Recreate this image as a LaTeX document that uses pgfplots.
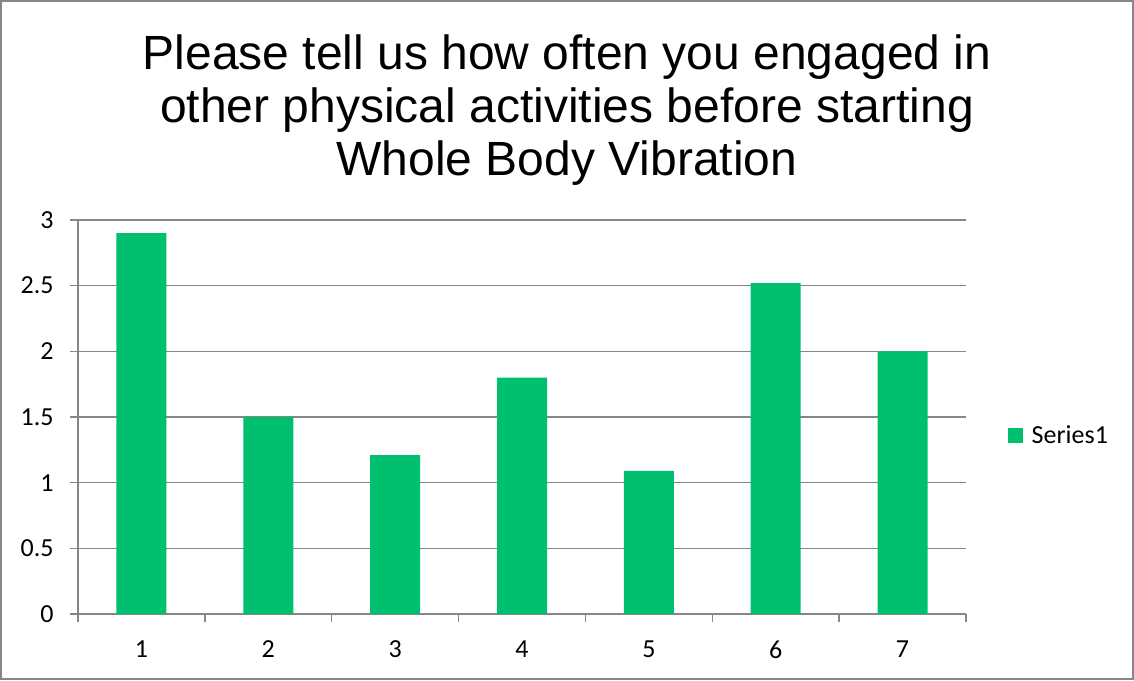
\documentclass[border=0pt]{standalone}
\usepackage{fontspec}
\setmainfont{Carlito}
\newfontfamily\titlefont{Liberation Sans}
\usepackage{pgfplots}
\pgfplotsset{compat=1.18}
\definecolor{bargreen}{RGB}{0,191,111}
\definecolor{axgray}{RGB}{134,134,134}
\begin{document}
\begin{tikzpicture}[x=0.5pt,y=0.5pt]
\useasboundingbox (0,0) rectangle (1134,680);
\draw[axgray, line width=0.75pt] (1,1) rectangle (1133,679);
\node[anchor=base, inner sep=0pt, font=\titlefont\fontsize{24}{27}\selectfont] at (567,610) {Please tell us how often you engaged in};
\node[anchor=base, inner sep=0pt, font=\titlefont\fontsize{24}{27}\selectfont] at (567,557) {other physical activities before starting};
\node[anchor=base, inner sep=0pt, font=\titlefont\fontsize{24}{27}\selectfont] at (567,504) {Whole Body Vibration};
\begin{axis}[
  at={(39pt,33pt)}, anchor=south west,
  scale only axis, width=444pt, height=197pt,
  xmin=0.5, xmax=7.5, ymin=0, ymax=3,
  ytick={0,0.5,1,1.5,2,2.5,3},
  yticklabels={0,0.5,1,1.5,2,2.5,3},
  xtick={1,2,3,4,5,6,7},
  minor xtick={0.5,1.5,2.5,3.5,4.5,5.5,6.5,7.5},
  major tick length=4pt, minor tick length=4pt,
  xtick style={draw=none},
  minor x tick style={draw=axgray, line width=0.75pt},
  ytick style={draw=axgray, line width=0.75pt},
  tick align=outside,
  axis x line*=bottom, axis y line*=left,
  axis line style={draw=axgray, line width=0.75pt, -},
  ymajorgrids, major grid style={axgray, line width=0.75pt},
  ybar, bar width=25pt,
  /pgf/number format/assume math mode=true,
  ticklabel style={font=\fontsize{13}{15}\selectfont},
  yticklabel style={xshift=-4.7pt},
  xticklabel style={yshift=-5.7pt},
  legend style={draw=none, fill=none, inner sep=0pt, outer sep=0pt,
    at={(1.047,0.452)}, anchor=west, font=\fontsize{13}{15}\selectfont},
  legend cell align=left,
]
\addplot[fill=bargreen, draw=none,
  legend image code/.code={\fill[bargreen] (0pt,-3.75pt) rectangle (7.5pt,3.75pt);}]
  coordinates {(1,2.9) (2,1.5) (3,1.21) (4,1.8) (5,1.09) (6,2.52) (7,2.0)};
\legend{\hspace{2.5pt}Series1}
\end{axis}
\end{tikzpicture}
\end{document}
